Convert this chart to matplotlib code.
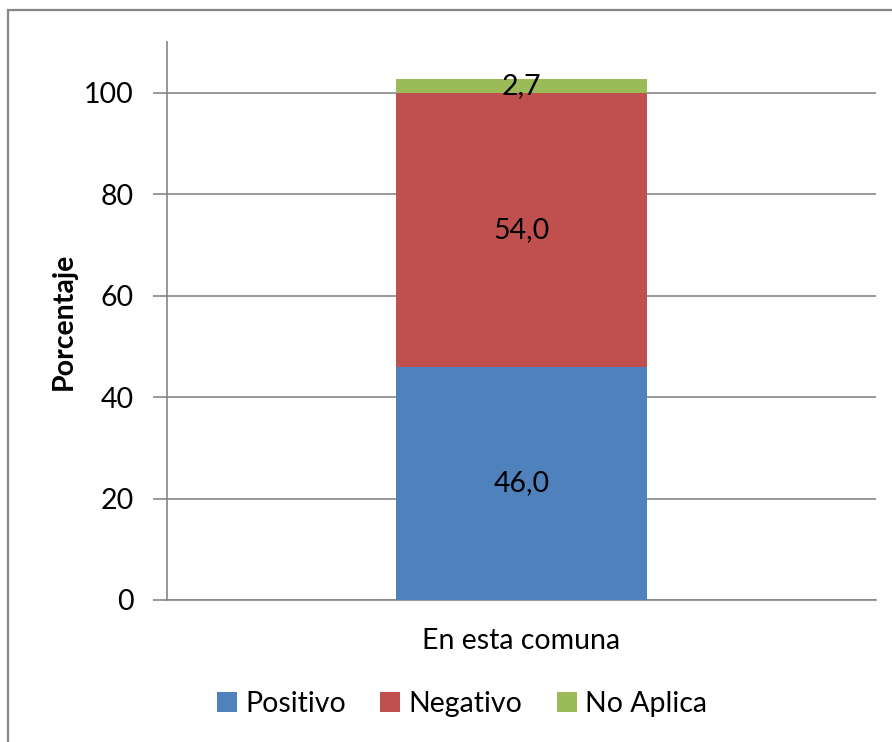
import matplotlib
matplotlib.use("Agg")
import matplotlib.pyplot as plt
from matplotlib.patches import Rectangle

categories = ["En esta comuna"]
series_names = ["Positivo", "Negativo", "No Aplica"]
positivo = [46.0]
negativo = [54.0]
no_aplica = [2.7]
colors = ["#4F81BD", "#C0504D", "#9BBB59"]
yticks = [0, 20, 40, 60, 80, 100]

plt.rcParams['font.family'] = ['Lato', 'DejaVu Sans']
FS = 20.5

fig = plt.figure(figsize=(8.92, 7.42), dpi=100)
ax = fig.add_axes([167/892, 1-600/742, (876-167)/892, (600-42)/742])

x = list(range(len(categories)))
bottom = [0.0]*len(categories)
for name, vals, c in zip(series_names, [positivo, negativo, no_aplica], colors):
    bars = ax.bar(x, vals, width=0.354, bottom=bottom, color=c, label=name, zorder=3)
    for b, v, b0 in zip(bars, vals, bottom):
        ax.text(b.get_x()+b.get_width()/2, b0+v/2, f"{v:.1f}".replace('.', ','),
                ha='center', va='center', fontsize=FS, zorder=4)
    bottom = [b0+v for b0, v in zip(bottom, vals)]

ax.set_xlim(-0.5, 0.5)
ax.set_ylim(0, 110)
ax.set_yticks(yticks)
ax.set_xticks(x)
ax.set_xticklabels(categories, fontsize=FS)
ax.tick_params(axis='y', labelsize=FS, length=10, width=1.2, color='#868686', pad=14)
ax.tick_params(axis='x', length=0, pad=20)
ax.yaxis.grid(True, color='#868686', linewidth=1.2, zorder=0)
for s in ['top', 'right']:
    ax.spines[s].set_visible(False)
for s in ['left', 'bottom']:
    ax.spines[s].set_color('#868686')
    ax.spines[s].set_linewidth(1.2)
ax.set_ylabel("Porcentaje", fontsize=FS, fontweight='bold', labelpad=5)

leg = fig.legend(loc='center', bbox_to_anchor=(462/892, 1-704/742), ncol=3, frameon=False,
                 fontsize=FS, handlelength=0.7, handleheight=0.7, handletextpad=0.3, columnspacing=1.2)

fig.patches.append(Rectangle((8/892, -0.1), 1.2, 1-9.5/742+0.1, transform=fig.transFigure,
                             fill=False, edgecolor='#868686', linewidth=1.6))

fig.savefig("out.png", dpi=100)
